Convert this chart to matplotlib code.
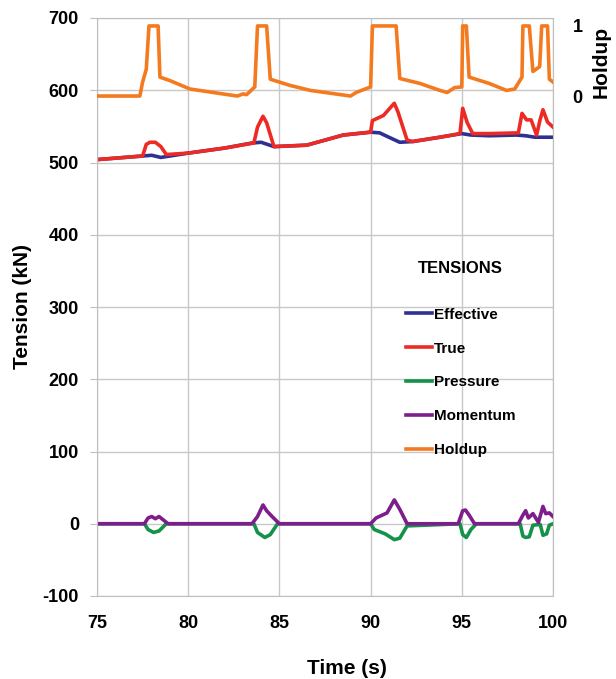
import matplotlib
matplotlib.use('Agg')
from matplotlib import pyplot as plt

plt.rcParams['font.family'] = ['Liberation Sans', 'DejaVu Sans']
plt.rcParams['font.weight'] = 'bold'
plt.rcParams['axes.unicode_minus'] = False

# time (s) / value pairs
t_eff = [75, 77.5, 78.0, 78.5, 79.0, 80, 82, 83.5, 84.0, 84.7, 86.5, 88.5, 90.0,
         90.5, 91.0, 91.6, 92.3, 93.8, 95.0, 95.5, 96.5, 98.0, 98.5, 99.0, 100]
effective = [504, 509, 510, 507, 509, 513, 520, 527, 528, 522, 524, 538, 542,
             541, 535, 528, 529, 535, 540, 538, 537, 538, 537, 535, 535]

t_true = [75, 77.5, 77.7, 77.9, 78.2, 78.5, 78.8, 80, 82, 83.6, 83.8, 84.1, 84.3,
          84.7, 86.5, 88.5, 90.0, 90.1, 90.7, 91.3, 91.5, 92.0, 92.3, 93.8, 94.9,
          95.05, 95.3, 95.6, 96.5, 98.1, 98.3, 98.55, 98.8, 99.1, 99.3, 99.45,
          99.7, 100]
true_t = [504, 509, 525, 528, 528, 522, 511, 513, 520, 527, 549, 564, 555,
          522, 524, 538, 542, 558, 565, 582, 570, 531, 529, 535, 540,
          575, 555, 540, 540, 541, 568, 559, 559, 538, 560, 573,
          556, 549]

t_pres = [75, 77.6, 77.8, 78.1, 78.4, 78.8, 83.6, 83.8, 84.2, 84.5, 84.9, 90.0,
          90.2, 90.8, 91.3, 91.6, 92.0, 94.9, 95.05, 95.25, 95.5, 95.8, 98.2,
          98.35, 98.5, 98.7, 98.9, 99.3, 99.45, 99.65, 99.8, 100]
pressure = [0, 0, -8, -12, -10, 0, 0, -12, -19, -15, 0, 0,
            -8, -14, -22, -20, -3, 0, -15, -19, -8, 0, 0,
            -17, -19, -18, -2, -1, -16, -14, -2, 0]

t_mom = [75, 77.6, 77.8, 78.0, 78.2, 78.4, 78.6, 78.9, 83.5, 83.8, 84.1, 84.3,
         84.6, 85.0, 90.0, 90.3, 90.9, 91.3, 91.6, 92.0, 94.8, 95.05, 95.2,
         95.4, 95.7, 98.1, 98.35, 98.5, 98.65, 98.9, 99.2, 99.45, 99.6, 99.8, 100]
momentum = [0, 0, 8, 10, 7, 10, 6, 0, 0, 10, 26, 18,
            10, 0, 0, 8, 15, 33, 20, 0, 0, 18, 19,
            12, 0, 0, 12, 18, 8, 14, 2, 24, 14, 15, 10]

t_hold = [75, 77.35, 77.5, 77.7, 77.85, 78.35, 78.45, 79, 80.1, 81.9, 82.7, 83.0,
          83.2, 83.65, 83.8, 84.3, 84.5, 85.6, 86.7, 88.9, 89.2, 90.0, 90.1,
          91.4, 91.6, 92.7, 93.8, 94.2, 94.6, 95.0, 95.05, 95.25, 95.4, 96.5,
          97.45, 97.9, 98.3, 98.35, 98.7, 98.9, 99.27, 99.38, 99.7, 99.8, 100]
holdup = [0, 0, 0.2, 0.38, 1.0, 1.0, 0.27, 0.22, 0.1, 0.03, 0.0, 0.03,
          0.02, 0.13, 1.0, 1.0, 0.24, 0.15, 0.08, 0.0, 0.05, 0.13, 1.0,
          1.0, 0.25, 0.18, 0.08, 0.05, 0.12, 0.13, 1.0, 1.0, 0.27, 0.18,
          0.08, 0.1, 0.27, 1.0, 1.0, 0.35, 0.42, 1.0, 1.0, 0.24, 0.2]

x_ticks = [75, 80, 85, 90, 95, 100]
y_ticks = [-100, 0, 100, 200, 300, 400, 500, 600, 700]

fig = plt.figure(figsize=(6.16, 6.79), dpi=100)
ax = fig.add_axes([97/616, 1 - 596/679, 456/616, 578/679])

lw = 2.6
l_eff, = ax.plot(t_eff, effective, color='#2E3192', lw=lw, label='Effective')
l_true, = ax.plot(t_true, true_t, color='#EE2A24', lw=lw, label='True')
l_pres, = ax.plot(t_pres, pressure, color='#14924A', lw=lw, label='Pressure')
l_mom, = ax.plot(t_mom, momentum, color='#7E1E8C', lw=lw, label='Momentum')

ax.set_xlim(75, 100)
ax.set_ylim(-100, 700)
ax.set_xticks(x_ticks)
ax.set_yticks(y_ticks)
ax.grid(True, color='#C8C8C8', lw=1)
ax.set_axisbelow(True)
for s in ax.spines.values():
    s.set_color('#BFBFBF')
ax.tick_params(axis='y', length=5, color='#BFBFBF', pad=8, labelsize=13)
ax.tick_params(axis='x', length=0, pad=14, labelsize=13)

# holdup on its own scale: 0 -> ~592 kN, 1 -> ~689 kN
ax2 = ax.twinx()
l_hold, = ax2.plot(t_hold, holdup, color='#F47A20', lw=lw, label='Holdup')
ax2.set_ylim((-100 - 592) / 97, (700 - 592) / 97)
ax2.set_yticks([0, 1])
ax2.tick_params(axis='y', length=0, pad=14, labelsize=13)
for s in ax2.spines.values():
    s.set_visible(False)

fig.text(23/616, 1 - 307/679, 'Tension (kN)', rotation=90, ha='center', va='center',
         fontsize=15, fontweight='bold')
fig.text(347/616, 1 - 668/679, 'Time (s)', ha='center', va='center',
         fontsize=15, fontweight='bold')
fig.text(601/616, 1 - 62/679, 'Holdup', rotation=90, ha='center', va='center',
         fontsize=15, fontweight='bold')
fig.text(460/616, 1 - 269/679, 'TENSIONS', ha='center', va='center',
         fontsize=12, fontweight='bold')

leg = ax2.legend(handles=[l_eff, l_true, l_pres, l_mom, l_hold],
                 loc='upper left', bbox_to_anchor=(392/616, 1 - 294/679),
                 bbox_transform=fig.transFigure, frameon=False, fontsize=11,
                 labelspacing=1.3, handlelength=1.7, handletextpad=0.15,
                 borderpad=0.4)

plt.savefig('out.png', dpi=100)
